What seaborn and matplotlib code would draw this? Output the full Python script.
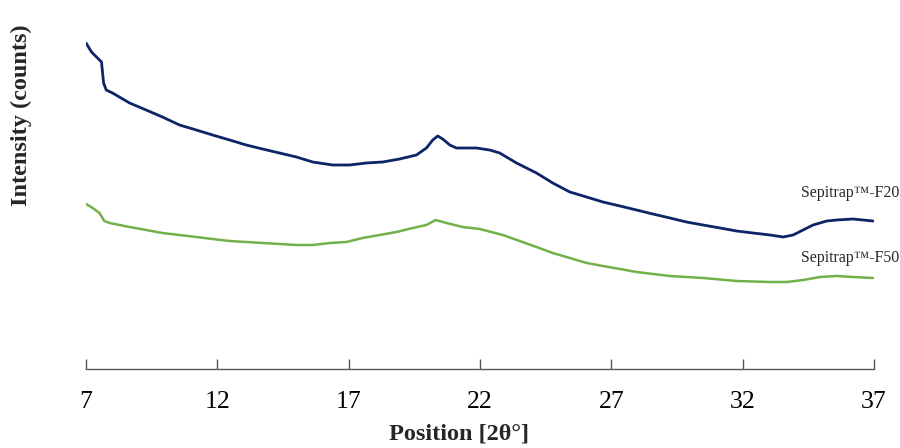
import matplotlib
matplotlib.use("Agg")
import matplotlib.pyplot as plt
import seaborn as sns
import pandas as pd

# ---- data (2θ in degrees, intensity in counts) ----
f20_pos = [7.00, 7.21, 7.59, 7.67, 7.77, 8.01, 8.66, 9.29, 9.91, 10.56, 11.20,
           11.82, 12.47, 13.10, 13.72, 14.37, 15.01, 15.63, 16.39, 17.04, 17.67,
           18.30, 18.94, 19.58, 19.96, 20.20, 20.39, 20.58, 20.85, 21.10, 21.48,
           21.86, 22.37, 22.75, 23.39, 24.15, 24.77, 25.42, 26.06, 26.68, 27.33,
           27.96, 28.58, 29.23, 29.86, 30.49, 31.14, 31.77, 32.39, 33.04, 33.54,
           33.92, 34.30, 34.68, 35.20, 35.58, 36.20, 36.96]
f20_counts = [3260, 3170, 3070, 2860, 2790, 2760, 2660, 2590, 2520, 2440, 2390,
              2340, 2290, 2240, 2200, 2160, 2120, 2070, 2040, 2040, 2060,
              2070, 2100, 2140, 2210, 2290, 2330, 2300, 2240, 2210, 2210,
              2210, 2190, 2160, 2060, 1960, 1860, 1770, 1720, 1670, 1630,
              1590, 1550, 1510, 1470, 1440, 1410, 1380, 1360, 1340, 1320,
              1340, 1390, 1440, 1480, 1490, 1500, 1480]

f50_pos = [7.00, 7.26, 7.51, 7.70, 7.90, 8.66, 9.29, 9.91, 10.56, 11.20, 11.82,
           12.47, 13.10, 13.72, 14.37, 15.01, 15.63, 16.28, 16.91, 17.53, 18.18,
           18.82, 19.44, 19.96, 20.31, 20.72, 21.34, 21.99, 22.87, 23.51, 24.15,
           24.77, 25.42, 26.06, 26.68, 27.33, 27.96, 29.23, 30.49, 31.77, 33.04,
           33.67, 34.30, 34.95, 35.58, 36.20, 36.96]
f50_counts = [1650, 1610, 1560, 1480, 1460, 1420, 1390, 1360, 1340, 1320, 1300,
              1280, 1270, 1260, 1250, 1240, 1240, 1260, 1270, 1310, 1340,
              1370, 1410, 1440, 1490, 1460, 1420, 1400, 1340, 1280, 1220,
              1160, 1110, 1060, 1030, 1000, 970, 930, 910, 880, 870,
              870, 890, 920, 930, 920, 910]

x_ticks = [7, 12, 17, 22, 27, 32, 37]
series_names = ["Sepitrap\u2122-F20", "Sepitrap\u2122-F50"]

# ---- plotting ----
sns.set_theme(style="white")
plt.rcParams["font.family"] = ["Liberation Serif", "DejaVu Serif"]

fig = plt.figure(figsize=(9, 4.48), dpi=100)
ax = fig.add_axes([86 / 900, (448 - 369) / 448, 788 / 900, 339 / 448])

blue = "#0d2466"
green = "#72b14a"

df20 = pd.DataFrame({"pos": f20_pos, "counts": f20_counts})
df50 = pd.DataFrame({"pos": f50_pos, "counts": f50_counts})
sns.lineplot(data=df20, x="pos", y="counts", ax=ax, color=blue, lw=2.0, sort=False)
sns.lineplot(data=df50, x="pos", y="counts", ax=ax, color=green, lw=1.8, sort=False)

ax.set_xlim(7, 37)
ax.set_ylim(0, 3390)
ax.set_xticks(x_ticks)
ax.set_xticklabels([str(t) for t in x_ticks])
ax.set_yticks([])

for side in ["top", "right", "left"]:
    ax.spines[side].set_visible(False)
ax.spines["bottom"].set_color("#595959")
ax.spines["bottom"].set_linewidth(1.0)
ax.tick_params(axis="x", direction="in", length=7, width=1.0, color="#595959",
               labelsize=18.5, pad=16, labelcolor="black", bottom=True)

ax.set_xlabel("Position [2\u03b8\u00b0]", fontsize=17.5, fontweight="bold")
ax.xaxis.set_label_coords(0.473, -0.16)
ax.set_ylabel("Intensity (counts)", fontsize=17.5, fontweight="bold")
ax.yaxis.set_label_coords(-0.068, 0.75)

ax.text(37.95, 1763, series_names[0], ha="right", va="center", fontsize=11.4,
        clip_on=False)
ax.text(37.95, 1110, series_names[1], ha="right", va="center", fontsize=11.4,
        clip_on=False)

fig.savefig("out.png", dpi=100)
